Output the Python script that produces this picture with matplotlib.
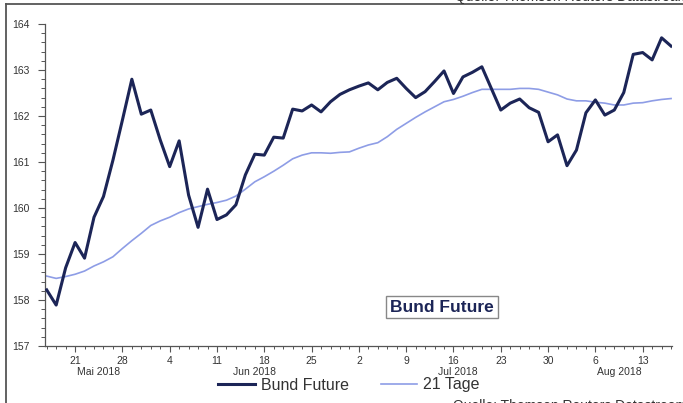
"""Bund Future mit 21-Tage-Durchschnitt, Mai bis Aug 2018."""
import matplotlib
matplotlib.use("Agg")
import matplotlib.pyplot as plt
import numpy as np
import pandas as pd
from matplotlib.lines import Line2D
from matplotlib.ticker import FixedLocator, MultipleLocator

plt.rcParams["font.family"] = ["Liberation Sans", "DejaVu Sans"]

NAVY = "#1c2557"
LIGHT = "#8e9de6"
GREY = "#555555"

# Handelstage 16.05. bis 16.08.2018
dates = pd.bdate_range("2018-05-16", "2018-08-16")

bund = [158.22, 157.89, 158.70, 159.25, 158.91, 159.80, 160.25, 161.04, 161.91, 162.80,
        162.04, 162.13, 161.48, 160.90, 161.46, 160.28, 159.58, 160.41, 159.75, 159.85,
        160.07, 160.72, 161.17, 161.15, 161.54, 161.52, 162.15, 162.11, 162.24, 162.09,
        162.31, 162.47, 162.57, 162.65, 162.72, 162.57, 162.73, 162.82, 162.60, 162.40,
        162.53, 162.75, 162.98, 162.49, 162.85, 162.95, 163.07, 162.60, 162.13, 162.28,
        162.37, 162.18, 162.08, 161.44, 161.59, 160.92, 161.26, 162.07, 162.35, 162.02,
        162.13, 162.51, 163.34, 163.38, 163.22, 163.70, 163.52]

ma21 = [158.52, 158.47, 158.51, 158.56, 158.63, 158.74, 158.83, 158.94, 159.12, 159.29,
        159.45, 159.62, 159.72, 159.80, 159.90, 159.98, 160.03, 160.08, 160.12, 160.17,
        160.26, 160.41, 160.57, 160.68, 160.80, 160.93, 161.07, 161.15, 161.20, 161.20,
        161.19, 161.21, 161.22, 161.30, 161.37, 161.42, 161.55, 161.71, 161.84, 161.97,
        162.09, 162.20, 162.31, 162.36, 162.43, 162.51, 162.58, 162.58, 162.58, 162.58,
        162.60, 162.60, 162.58, 162.52, 162.46, 162.37, 162.33, 162.33, 162.30, 162.28,
        162.24, 162.24, 162.28, 162.29, 162.33, 162.36, 162.38]

month_names = {5: "Mai", 6: "Jun", 7: "Jul", 8: "Aug"}

x = np.arange(len(dates))

fig = plt.figure(figsize=(6.83, 4.03), dpi=100)
ax = fig.add_axes([0.0659, 0.1414, 0.918, 0.799])

ax.plot(x, ma21, color=LIGHT, lw=1.2, zorder=2)
ax.plot(x, bund, color=NAVY, lw=2.2, zorder=3)

ax.set_xlim(-0.18, 66.1)
ax.set_ylim(157, 164)

for s in ("top", "right"):
    ax.spines[s].set_visible(False)
for s in ("left", "bottom"):
    ax.spines[s].set_color(GREY)
    ax.spines[s].set_linewidth(0.9)

# y: Hauptticks je 1, Nebenticks je 0.2
ax.yaxis.set_major_locator(MultipleLocator(1))
ax.yaxis.set_minor_locator(MultipleLocator(0.2))
ax.tick_params(axis="y", which="major", length=5, width=0.8, color=GREY,
               labelsize=7.5, labelcolor="#333333", pad=6)
ax.tick_params(axis="y", which="minor", length=3, width=0.7, color=GREY)

# x: Montage als Hauptticks, jeder Handelstag als Nebentick
mondays = [i for i, d in enumerate(dates) if d.weekday() == 0]
ax.xaxis.set_major_locator(FixedLocator(mondays))
ax.set_xticklabels([str(dates[i].day) for i in mondays])
ax.xaxis.set_minor_locator(FixedLocator(x))
ax.tick_params(axis="x", which="major", length=4, width=0.8, color=GREY,
               labelsize=7.5, labelcolor="#333333", pad=3)
ax.tick_params(axis="x", which="minor", length=2.5, width=0.7, color=GREY)

# Monatsbeschriftung mittig unter dem jeweiligen Monatsabschnitt
months = pd.Series(x, index=dates).groupby(dates.month)
for m, idx in months:
    ax.annotate(f"{month_names[m]} 2018", xy=((idx.min() + idx.max()) / 2, 0),
                xycoords=("data", "axes fraction"), xytext=(0, -19),
                textcoords="offset points", ha="center", va="center",
                fontsize=7.5, color="#333333")

ax.text(0.633, 0.121, "Bund Future", transform=ax.transAxes, ha="center", va="center",
        fontsize=12.5, fontweight="bold", color=NAVY,
        bbox=dict(boxstyle="square,pad=0.22", fc="white", ec="#888888", lw=1.0))

handles = [Line2D([], [], color=NAVY, lw=2.2), Line2D([], [], color=LIGHT, lw=1.2)]
fig.legend(handles, ["Bund Future", "21 Tage"], loc="center",
           bbox_to_anchor=(0.511, 1 - 385 / 403), ncol=2, frameon=False,
           fontsize=11.5, handlelength=2.3, handletextpad=0.35, columnspacing=2.0,
           labelcolor="#333333")

# Rahmen und abgeschnittene Quellenangaben des Ausschnitts
fig.add_artist(Line2D([6 / 683, 1], [1 - 4 / 403, 1 - 4 / 403], transform=fig.transFigure,
                      color=GREY, lw=1.3))
fig.add_artist(Line2D([6 / 683, 6 / 683], [0, 1 - 4 / 403], transform=fig.transFigure,
                      color=GREY, lw=1.3))
fig.text(455 / 683, 1 + 2.8 / 403, "Quelle: Thomson Reuters Datastream", ha="left",
         va="center", fontsize=10, color="#333333")
fig.text(453 / 683, -3 / 403, "Quelle: Thomson Reuters Datastream", ha="left",
         va="center", fontsize=10, color="#333333")

fig.savefig("out.png", dpi=100)
